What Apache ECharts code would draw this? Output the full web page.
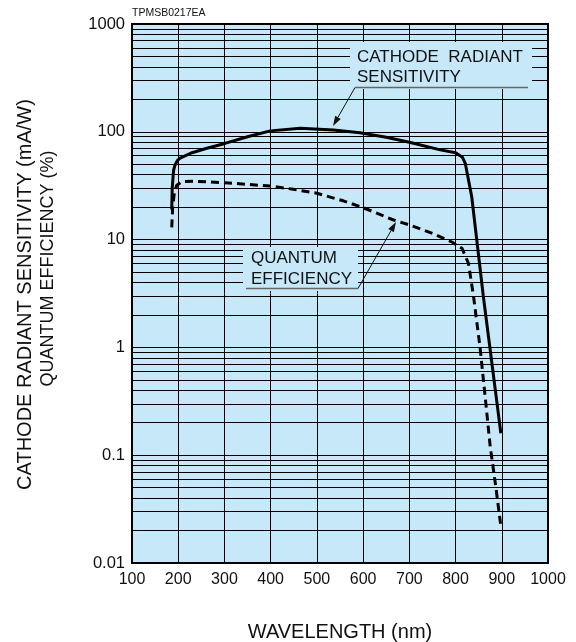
<!DOCTYPE html>
<html>
<head>
<meta charset="utf-8">
<script src="https://cdn.jsdelivr.net/npm/echarts@6/dist/echarts.min.js"></script>
<style>
  html, body { margin: 0; padding: 0; background: #fff; }
  #chart { width: 576px; height: 642px; }
</style>
</head>
<body>
<div id="chart"></div>
<script>
const FONT = '"Liberation Sans", Arial, Helvetica, sans-serif';

// tick labels of the log axis, 10^-2 .. 10^3
const yTickLabels = ['0.01', '0.1', '1', '10', '100', '1000'];
const minorFactors = [2, 3, 4, 5, 6, 7, 8, 9];

// cathode radiant sensitivity (mA/W)
const cathodeWl  = [186, 187, 190, 193, 198, 204, 230, 260, 301, 350, 399, 464, 536, 593, 650, 700, 767, 800, 815, 821, 835, 860, 898];
const cathodeVal = [19, 30, 44, 49, 54, 57, 64, 70, 78, 90, 102, 108, 104, 98, 89, 80, 68, 64, 58, 51, 25, 3.0, 0.16];

// quantum efficiency (%)
const quantumWl  = [186, 188, 192, 197, 208, 233, 301, 399, 449, 500, 557, 600, 666, 700, 750, 792, 814, 828, 839, 853, 864, 875, 886, 898];
const quantumVal = [13, 20, 28, 32, 34.5, 34.8, 33.7, 31.4, 29.3, 26.9, 22.9, 19.8, 15.2, 13.7, 11.4, 9.5, 8.3, 6.0, 2.95, 1.0, 0.35, 0.12, 0.055, 0.022];

const minorValues = [];
for (let e = -2; e <= 2; e++) {
  minorFactors.forEach(f => minorValues.push(+(f * Math.pow(10, e)).toPrecision(3)));
}

const chart = echarts.init(document.getElementById('chart'));

function arrow(from, tip) {
  const dx = tip[0] - from[0], dy = tip[1] - from[1];
  const l = Math.sqrt(dx * dx + dy * dy);
  const ux = dx / l, uy = dy / l;
  const bx = tip[0] - ux * 10, by = tip[1] - uy * 10;
  return [
    { type: 'line', z: 60, shape: { x1: from[0], y1: from[1], x2: bx, y2: by }, style: { stroke: '#111', lineWidth: 1 } },
    { type: 'polygon', z: 60, shape: { points: [tip, [bx - uy * 3.2, by + ux * 3.2], [bx + uy * 3.2, by - ux * 3.2]] }, style: { fill: '#111' } }
  ];
}

function label(x, y, text, size) {
  return { type: 'text', z: 60, x: x, y: y, style: { text: text, font: size + 'px ' + FONT, fill: '#111', textAlign: 'left', textVerticalAlign: 'middle' } };
}

const bg = '#c6e8f8';

chart.setOption({
  animation: false,
  grid: {
    left: 132, right: 28, top: 24, bottom: 79, outerBoundsMode: 'none',
    show: true, backgroundColor: bg, borderColor: '#000', borderWidth: 2
  },
  xAxis: {
    type: 'value', min: 100, max: 1000, interval: 100,
    axisLine: { show: false }, axisTick: { show: false },
    splitLine: { lineStyle: { color: '#000', width: 1 } },
    axisLabel: { fontSize: 16, fontFamily: FONT, color: '#111', margin: 9, formatter: v => String(v) },
    name: 'WAVELENGTH (nm)', nameLocation: 'middle', nameGap: 59,
    nameTextStyle: { fontSize: 20, fontFamily: FONT, color: '#111' }
  },
  yAxis: {
    type: 'log', logBase: 10, min: 0.01, max: 1000,
    axisLine: { show: false }, axisTick: { show: false },
    splitLine: { lineStyle: { color: '#000', width: 1 } },
    axisLabel: {
      fontSize: 16.5, fontFamily: FONT, color: '#111', margin: 7,
      formatter: v => yTickLabels[Math.round(Math.log10(v)) + 2]
    }
  },
  series: [
    {
      type: 'line', data: [], z: 1, silent: true,
      markLine: {
        silent: true, symbol: 'none', animation: false,
        label: { show: false },
        lineStyle: { color: '#000', width: 1, type: 'solid' },
        emphasis: { disabled: true },
        data: minorValues.map(v => ({ yAxis: v }))
      }
    },
    {
      name: 'CATHODE RADIANT SENSITIVITY', type: 'line', z: 5,
      data: cathodeWl.map((w, i) => [w, cathodeVal[i]]),
      symbol: 'none', lineStyle: { color: '#000', width: 3 }
    },
    {
      name: 'QUANTUM EFFICIENCY', type: 'line', z: 5,
      data: quantumWl.map((w, i) => [w, quantumVal[i]]),
      symbol: 'none', lineStyle: { color: '#000', width: 3, type: [8, 5] }
    }
  ],
  graphic: [
    { type: 'text', x: 132, y: 13, style: { text: 'TPMSB0217EA', font: '10.5px ' + FONT, fill: '#111', textVerticalAlign: 'middle' } },
    { type: 'text', x: 25, y: 294.5, rotation: Math.PI / 2, style: { text: 'CATHODE RADIANT SENSITIVITY (mA/W)', font: '20px ' + FONT, fill: '#111', textAlign: 'center', textVerticalAlign: 'middle' } },
    { type: 'text', x: 48, y: 268.5, rotation: Math.PI / 2, style: { text: 'QUANTUM EFFICIENCY (%)', font: '18px ' + FONT, fill: '#111', textAlign: 'center', textVerticalAlign: 'middle' } },

    { type: 'rect', z: 50, shape: { x: 350, y: 42, width: 182, height: 47 }, style: { fill: bg } },
    label(357, 57, 'CATHODE  RADIANT', 17),
    label(357, 77, 'SENSITIVITY', 17),
    { type: 'line', z: 60, shape: { x1: 355, y1: 87.5, x2: 528, y2: 87.5 }, style: { stroke: '#666', lineWidth: 1.5 } },
    ...arrow([355, 87.5], [333, 126]),

    { type: 'rect', z: 50, shape: { x: 243, y: 247, width: 115, height: 44 }, style: { fill: bg } },
    label(251, 258, 'QUANTUM', 17),
    label(251, 279.5, 'EFFICIENCY', 17),
    { type: 'line', z: 60, shape: { x1: 246, y1: 288.5, x2: 358, y2: 288.5 }, style: { stroke: '#666', lineWidth: 1.5 } },
    ...arrow([358, 288.5], [396, 222])
  ]
});
</script>
</body>
</html>
